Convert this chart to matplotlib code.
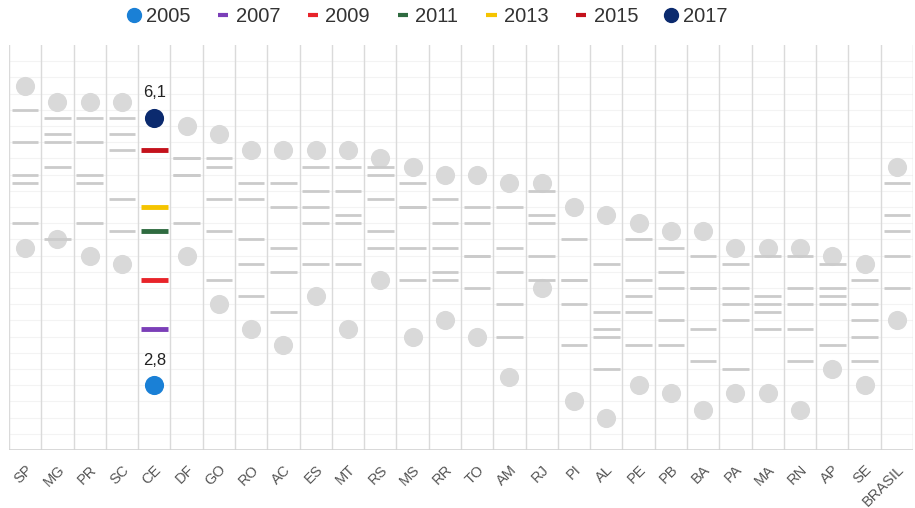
import matplotlib
matplotlib.use("Agg")
import matplotlib.pyplot as plt
from matplotlib.lines import Line2D
import numpy as np

plt.rcParams['font.family'] = ['Liberation Sans', 'DejaVu Sans']

states = ["SP", "MG", "PR", "SC", "CE", "DF", "GO", "RO", "AC", "ES", "MT", "RS", "MS", "RR",
          "TO", "AM", "RJ", "PI", "AL", "PE", "PB", "BA", "PA", "MA", "RN", "AP", "SE", "BRASIL"]

v2005 = [4.5, 4.6, 4.4, 4.3, 2.8, 4.4, 3.8, 3.5, 3.3, 3.9, 3.5, 4.1, 3.4, 3.6,
         3.4, 2.9, 4.0, 2.6, 2.4, 2.8, 2.7, 2.5, 2.7, 2.7, 2.5, 3.0, 2.8, 3.6]
v2007 = [4.8, 4.6, 4.8, 4.7, 3.5, 4.8, 4.1, 3.9, 3.7, 4.3, 4.3, 4.5, 4.1, 4.1,
         4.0, 3.4, 4.1, 3.3, 3.0, 3.3, 3.3, 3.1, 3.0, 3.5, 3.1, 3.3, 3.1, 4.0]
v2009 = [5.3, 5.5, 5.3, 5.1, 4.1, 5.4, 4.7, 4.3, 4.2, 4.8, 4.8, 4.7, 4.5, 4.2,
         4.4, 3.8, 4.4, 3.8, 3.4, 3.7, 3.6, 3.5, 3.6, 3.7, 3.5, 3.8, 3.4, 4.4]
v2011 = [5.4, 5.8, 5.4, 5.7, 4.7, 5.4, 5.1, 4.6, 4.5, 5.0, 4.9, 5.1, 5.0, 4.5,
         4.4, 4.2, 4.8, 4.1, 3.5, 3.9, 4.0, 4.0, 3.8, 3.8, 3.8, 3.9, 3.6, 4.7]
v2013 = [5.8, 5.9, 5.8, 5.9, 5.0, 5.6, 5.5, 5.1, 5.0, 5.2, 5.2, 5.4, 5.0, 4.8,
         4.8, 4.5, 4.9, 4.1, 3.7, 4.1, 4.2, 4.0, 4.0, 3.9, 4.0, 4.0, 3.8, 4.9]
v2015 = [6.2, 6.1, 6.1, 6.1, 5.7, 5.6, 5.6, 5.3, 5.3, 5.5, 5.5, 5.5, 5.3, 5.1,
         5.0, 5.0, 5.2, 4.6, 4.3, 4.6, 4.5, 4.4, 4.3, 4.4, 4.4, 4.3, 4.1, 5.3]
v2017 = [6.5, 6.3, 6.3, 6.3, 6.1, 6.0, 5.9, 5.7, 5.7, 5.7, 5.7, 5.6, 5.5, 5.4,
         5.4, 5.3, 5.3, 5.0, 4.9, 4.8, 4.7, 4.7, 4.5, 4.5, 4.5, 4.4, 4.3, 5.5]

years = ["2005", "2007", "2009", "2011", "2013", "2015", "2017"]
series = [v2005, v2007, v2009, v2011, v2013, v2015, v2017]
colors = ["#1a80d6", "#7b3fb8", "#e8242a", "#2f6b40", "#f5c400", "#c4121c", "#0b2a6e"]
highlight = "CE"

GRAY_DOT = "#d9d9d9"
GRAY_DASH = "#cbcbcb"

fig = plt.figure(figsize=(9.15, 5.08), dpi=100)
ax = fig.add_axes([9 / 915, 1 - 450 / 508, 904 / 915, 405 / 508])

x = np.arange(len(states))
hi = states.index(highlight)
half = 0.41

# grid
for b in np.arange(-0.5, len(states) + 0.5, 1):
    ax.axvline(b, color="#dadada", lw=1.0, zorder=1)
for g in np.arange(2.2, 7.0, 0.2):
    ax.axhline(g, color="#f3f3f3", lw=0.8, zorder=0)
ax.axhline(2.0, color="#d2d2d2", lw=1.2, zorder=1)

for yr, vals, c in zip(years, series, colors):
    vals = np.asarray(vals, dtype=float)
    mask = x != hi
    if yr in ("2005", "2017"):
        ax.scatter(x[mask], vals[mask], s=190, color=GRAY_DOT, zorder=2, linewidths=0)
        ax.scatter([x[hi]], [vals[hi]], s=190, color=c, zorder=5, linewidths=0)
    else:
        ax.hlines(vals[mask], x[mask] - half, x[mask] + half, color=GRAY_DASH, lw=2.0, zorder=3)
        ax.hlines([vals[hi]], x[hi] - half, x[hi] + half, color=c, lw=3.5, zorder=5)

for yr in ("2005", "2017"):
    val = series[years.index(yr)][hi]
    ax.annotate(f"{val:.1f}".replace(".", ","), (x[hi], val), xytext=(0, 18),
                textcoords="offset points", ha="center", va="center",
                fontsize=12, color="#222222", zorder=6)

ax.set_xlim(-0.5, len(states) - 0.5)
ax.set_ylim(2.0, 7.0)
ax.set_yticks([])
ax.set_xticks(x)
ax.set_xticklabels(states, rotation=45, ha="right", rotation_mode="anchor",
                   fontsize=10.5, color="#555555")
ax.tick_params(axis="x", length=0, pad=9)
for s in ax.spines.values():
    s.set_visible(False)

handles = []
for yr, c in zip(years, colors):
    if yr in ("2005", "2017"):
        handles.append(Line2D([], [], marker="o", ls="", color=c, markersize=10))
    else:
        handles.append(Line2D([], [], color=c, lw=3, solid_capstyle="butt"))
fig.legend(handles, years, loc="center", bbox_to_anchor=(0.468, 0.968), ncol=7,
           frameon=False, fontsize=14.5, handlelength=0.5, handletextpad=0.35,
           columnspacing=1.4, labelcolor="#333333")

fig.savefig("out.png", dpi=100)
